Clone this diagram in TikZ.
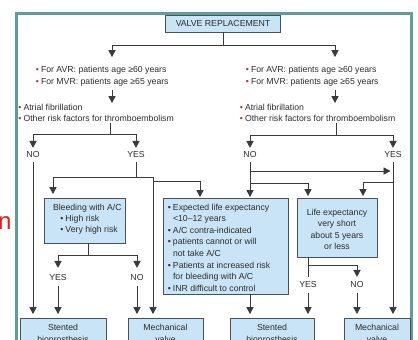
\documentclass[tikz,border=0pt]{standalone}
\usepackage{fontspec}
\setmainfont{Liberation Sans}
\usetikzlibrary{arrows.meta}
\definecolor{frameteal}{RGB}{95,156,158}
\definecolor{boxfill}{RGB}{200,228,246}
\definecolor{boxline}{RGB}{72,80,90}
\definecolor{linegray}{RGB}{58,58,58}
\definecolor{txtgray}{RGB}{45,45,45}
\definecolor{bulletred}{RGB}{190,45,55}
\definecolor{slidered}{RGB}{228,28,28}
\newcommand{\myfnt}{\fontsize{8.7}{10}\selectfont}
\newcommand{\rb}{\llap{\textcolor{bulletred}{\textbullet}\hspace{2.2pt}}}
\newcommand{\kb}{\llap{\textbullet\hspace{2.2pt}}}
\begin{document}
\begin{tikzpicture}[x=1pt,y=-1pt,
  every node/.style={inner sep=0pt, outer sep=0pt},
  txt/.style={anchor=base west, font=\myfnt, text=txtgray},
  ctxt/.style={anchor=base, font=\myfnt, text=txtgray},
  lab/.style={font=\myfnt, text=txtgray},
  box/.style={draw=boxline, fill=boxfill, line width=0.8pt, anchor=north west},
  ln/.style={draw=linegray, line width=0.9pt},
  arr/.style={ln, -{Triangle[width=7.2pt,length=7pt]}},
]
\useasboundingbox (0,0) rectangle (418,340);
\clip (0,0) rectangle (418,340);
\fill[white] (0,0) rectangle (418,340);

% slide remnant and frame
\node[font=\fontsize{24}{24}\selectfont, text=slidered, anchor=base east] (redn) at (11.5,229) {n};
\draw[frameteal, line width=3pt] (16.5,13.5) rectangle (411.5,360);

% title
\node[box, anchor=center, minimum width=115pt, minimum height=17pt, font=\myfnt, text=txtgray] (title) at (223,23.5) {VALVE REPLACEMENT};
\coordinate (jT) at (223,45);
\coordinate (jTL) at (112,45);
\coordinate (jTR) at (335,45);
\draw[ln] (title.south) -- (jT);
\draw[ln] (jTL) -- (jTR);

% ---------- left branch ----------
\node[txt] (avrL) at (41,72) {\rb For AVR: patients age ≥60 years};
\node[txt] (mvrL) at (41,84) {\rb For MVR: patients age ≥65 years};
\coordinate (inAgeL) at (112,57);
\coordinate (outAgeL) at (112,90);
\coordinate (inRiskL) at (112,103);
\draw[arr] (jTL) -- (inAgeL);
\draw[arr] (outAgeL) -- (inRiskL);
\node[txt] (afL) at (23.5,110) {\rb Atrial fibrillation};
\node[txt] (orL) at (23.5,121) {\rb Other risk factors for thromboembolism};
\coordinate (outRiskL) at (110,123);
\coordinate (jRL) at (110,134);
\node[lab] (noL) at (33,155) {NO};
\node[lab] (yesL) at (136,155) {YES};
\draw[ln] (outRiskL) -- (jRL);
\draw[arr, shorten >=4pt] (jRL) -| (noL.north);
\draw[arr, shorten >=4pt] (jRL) -| (yesL.north);

% boxes
\node[box, minimum width=81pt, minimum height=45pt] (bleed) at (44,198) {};
\node[box, minimum width=125pt, minimum height=96pt] (expBox) at (163,198) {};
\node[box, minimum width=80pt, minimum height=59pt] (lifeBox) at (297,198) {};
\node[box, minimum width=86pt, minimum height=34pt] (stL) at (20,318) {};
\node[box, minimum width=75pt, minimum height=34pt] (mvL) at (128,318) {};
\node[box, minimum width=84pt, minimum height=34pt] (stR) at (230,318) {};
\node[box, minimum width=66pt, minimum height=34pt] (mvR) at (344,318) {};

% left NO
\draw[arr, shorten <=4pt, shorten >=4pt] (noL.south) -- (noL.south |- stL.north);
% left YES
\coordinate (jYL) at (136,177);
\coordinate (jYLa) at (53,177);
\coordinate (jYLb) at (153,177);
\coordinate (jYLc) at (153,181);
\path (expBox.north west) ++(37,0) coordinate (expInL);
\draw[ln, shorten <=4pt] (yesL.south) -- (jYL);
\draw[ln] (jYLa) -- (jYLb);
\draw[arr, shorten >=4pt] (jYLa) -- (jYLa |- bleed.north);
\draw[arr, shorten >=4pt] (jYLb) -- (jYLb |- mvL.north);
\draw[arr, shorten >=1pt] (jYLc) -| (expInL);

% bleeding box
\node[txt] (bl1) at (53,210) {Bleeding with A/C};
\node[txt] (bl2) at (65.5,221) {\kb High risk};
\node[txt] (bl3) at (65.5,232) {\kb Very high risk};
\path (bleed.south west) ++(44,0) coordinate (bleedOut);
\coordinate (jB) at (88,255);
\node[lab] (yesB) at (58,278) {YES};
\node[lab] (noB) at (137,278) {NO};
\draw[ln] (bleedOut) -- (jB);
\draw[arr, shorten >=7pt] (jB) -| (yesB.north);
\draw[arr, shorten >=7pt] (jB) -| (noB.north);
\draw[arr, shorten <=5pt, shorten >=4pt] (yesB.south) -- (yesB.south |- stL.north);
\draw[arr, shorten <=5pt, shorten >=4pt] (noB.south) -- (noB.south |- mvL.north);

% expected box
\node[txt] (ex1) at (173,210) {\kb Expected life expectancy};
\node[txt] (ex2) at (173,221.6) {<10–12 years};
\node[txt] (ex3) at (173,233.2) {\kb A/C contra-indicated};
\node[txt] (ex4) at (173,244.8) {\kb patients cannot or will};
\node[txt] (ex5) at (173,256.4) {not take A/C};
\node[txt] (ex6) at (173,268) {\kb Patients at increased risk};
\node[txt] (ex7) at (173,279.6) {for bleeding with A/C};
\node[txt] (ex8) at (173,291.2) {\kb INR difficult to control};
\path (expBox.south west) ++(87,0) coordinate (expOut);
\draw[arr, shorten >=4pt] (expOut) -- (expOut |- stR.north);

% ---------- right branch ----------
\node[txt] (avrR) at (251,72) {\rb For AVR: patients age ≥60 years};
\node[txt] (mvrR) at (251,84) {\rb For MVR: patients age ≥65 years};
\coordinate (inAgeR) at (335,57);
\coordinate (outAgeR) at (335,90);
\coordinate (inRiskR) at (335,103);
\draw[arr] (jTR) -- (inAgeR);
\draw[arr] (outAgeR) -- (inRiskR);
\node[txt] (afR) at (245,110) {\rb Atrial fibrillation};
\node[txt] (orR) at (245,121) {\rb Other risk factors for thromboembolism};
\coordinate (outRiskR) at (336,123);
\coordinate (jRR) at (336,135);
\node[lab] (noR) at (250,155) {NO};
\node[lab] (yesR) at (393,155) {YES};
\draw[ln] (outRiskR) -- (jRR);
\draw[arr, shorten >=4pt] (jRR) -| (noR.north);
\draw[arr, shorten >=4pt] (jRR) -| (yesR.north);

% right NO
\coordinate (jNR1) at (250,171);
\coordinate (jNR2) at (250,183);
\path (lifeBox.north west) ++(11,0) coordinate (lifeInL);
\path (lifeBox.north west) ++(66,0) coordinate (lifeInR);
\draw[arr, shorten <=4pt, shorten >=1pt] (noR.south) -- (noR.south |- expBox.north);
\draw[arr, shorten >=2.5pt] (jNR1) -- (jNR1 -| yesR.south);
\draw[arr, shorten >=2pt] (jNR2) -| (lifeInL);
% right YES
\coordinate (jYR) at (393,182);
\draw[arr, shorten <=4pt, shorten >=4pt] (yesR.south) -- (yesR.south |- mvR.north);
\draw[arr, shorten >=2pt] (jYR) -| (lifeInR);

% life box
\node[ctxt] (lf1) at (337,215) {Life expectancy};
\node[ctxt] (lf2) at (337,226.5) {very short};
\node[ctxt] (lf3) at (337,238) {about 5 years};
\node[ctxt] (lf4) at (337,249.5) {or less};
\path (lifeBox.south west) ++(11,0) coordinate (lifeOut);
\coordinate (jLf) at (308,265);
\node[lab] (yesLf) at (308,285) {YES};
\node[lab] (noLf) at (357,285) {NO};
\draw[ln, shorten >=5pt] (lifeOut) -- (yesLf.north);
\draw[arr, shorten >=5pt] (jLf) -| (noLf.north);
\draw[arr, shorten <=5pt, shorten >=4pt] (yesLf.south) -- (yesLf.south |- stR.north);
\draw[arr, shorten <=5pt, shorten >=4pt] (noLf.south) -- (noLf.south |- mvR.north);

% bottom box texts
\node[ctxt] (st1) at (63,330) {Stented};
\node[ctxt] (st2) at (63,342) {bioprosthesis};
\node[ctxt] (mv1) at (165.5,330) {Mechanical};
\node[ctxt] (mv2) at (165.5,342) {valve};
\node[ctxt] (sr1) at (272,330) {Stented};
\node[ctxt] (sr2) at (272,342) {bioprosthesis};
\node[ctxt] (mr1) at (377,330) {Mechanical};
\node[ctxt] (mr2) at (377,342) {valve};
\end{tikzpicture}
\end{document}
